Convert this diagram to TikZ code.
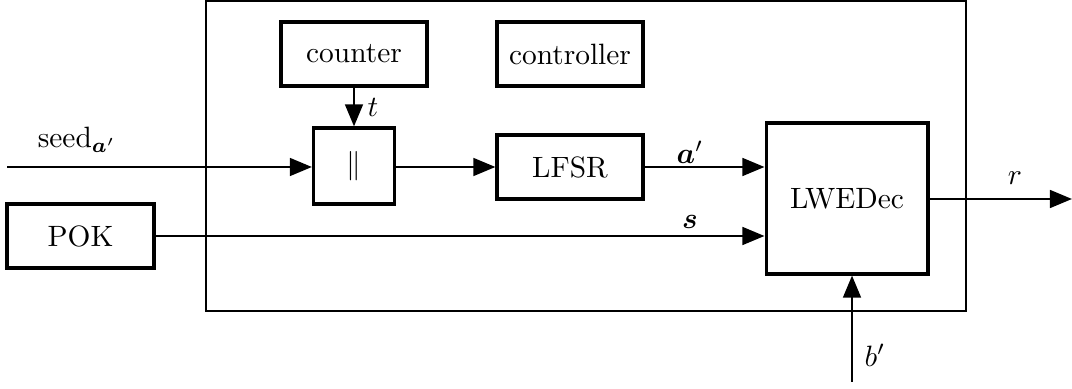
\documentclass[tikz,border=0pt]{standalone}
\usepackage{amsmath}
\usetikzlibrary{arrows.meta}
\begin{document}
\begin{tikzpicture}[x=0.34pt,y=-0.34pt,
  blk/.style={draw,line width=1.1pt,inner sep=0pt,font=\normalsize},
  conn/.style={line width=0.9pt,-{Triangle[length=7.5pt,width=6pt]}},
  lbl/.style={inner sep=0pt}]
\useasboundingbox (0,0) rectangle (1072,389);
% enclosing module
\draw[line width=1pt] (206,1) rectangle (966,311);
% blocks
\node[blk,minimum width=49.6pt,minimum height=21.8pt] (counter) at (354,54) {counter};
\node[blk,minimum width=49.6pt,minimum height=21.8pt] (ctrl) at (570,54) {controller};
\node[blk,minimum width=27.5pt,minimum height=25.8pt] (bar) at (354,166) {$\|$};
\node[blk,minimum width=49.6pt,minimum height=21.8pt] (lfsr) at (570,167) {LFSR};
\node[blk,minimum width=55pt,minimum height=51.3pt] (dec) at (847,198.5) {LWEDec};
\node[blk,minimum width=50pt,minimum height=21.8pt] (pok) at (80.5,236) {POK};
% free ends
\coordinate (seedin) at (7,167);
\coordinate (rout) at (1072,199);
\coordinate (bin) at (852,382);
% connectors
\draw[conn] (counter) -- (bar);
\draw[conn] (seedin) -- (seedin -| bar.west);
\draw[conn] (bar.east |- lfsr) -- (lfsr.west);
\draw[conn] (lfsr.east) -- (lfsr.east -| dec.west);
\draw[conn] (pok.east) -- (pok.east -| dec.west);
\draw[conn] (dec.east |- rout) -- (rout);
\draw[conn] (bin) -- (bin |- dec.south);
% labels
\node[lbl] at (373,107) {$t$};
\node[lbl] at (77,140) {seed$_{\boldsymbol{a}'}$};
\node[lbl] at (690,152) {$\boldsymbol{a}'$};
\node[lbl] at (690,222) {$\boldsymbol{s}$};
\node[lbl] at (1015,178) {$r$};
\node[lbl] at (875,355) {$b'$};
\end{tikzpicture}
\end{document}
